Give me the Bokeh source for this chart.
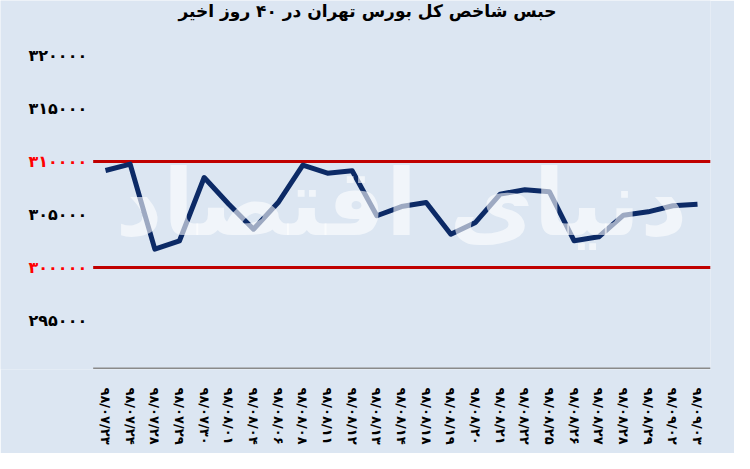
from bokeh.plotting import figure
from bokeh.models import Range1d, FixedTicker
from bokeh.embed import file_html
from bokeh.resources import INLINE
from bokeh.core.properties import value

FA = str.maketrans("0123456789", "۰۱۲۳۴۵۶۷۸۹")

title_text = "حبس شاخص کل بورس تهران در ۴۰ روز اخیر"
watermark_text = "دنیای اقتصاد"

dates = ["98/07/23", "98/07/24", "98/07/28", "98/07/29", "98/07/30",
         "98/08/01", "98/08/04", "98/08/06", "98/08/08", "98/08/11",
         "98/08/12", "98/08/13", "98/08/14", "98/08/18", "98/08/19",
         "98/08/20", "98/08/21", "98/08/22", "98/08/25", "98/08/26",
         "98/08/27", "98/08/28", "98/08/29", "98/09/02", "98/09/03"]
dates_fa = [d.translate(FA) for d in dates]

index_values = [309150, 309750, 301730, 302520, 308490,
                305970, 303610, 306130, 309650, 308900,
                309120, 304880, 305750, 306130, 303140,
                304250, 306920, 307330, 307140, 302520,
                302900, 304930, 305250, 305820, 305970]

y_ticks = [295000, 300000, 305000, 310000, 315000, 320000]
band_levels = [300000, 310000]

BG = "#dce6f2"
FONT = "DejaVu Sans"

n = len(dates_fa)
xs = list(range(n))
cat_left, cat_right = -0.5, n - 0.5

# pixel geometry of the frame
px_per_cat = 24.667            # horizontal px per category
px_per_unit_y = 10.6 / 1000    # vertical px per index point
x_start = -105 / px_per_cat
x_end = x_start + 710 / px_per_cat
y_start = 290376
y_end = y_start + 369 / px_per_unit_y

p = figure(width=734, height=453,
           x_range=Range1d(x_start, x_end),
           y_range=Range1d(y_start, y_end),
           output_backend="svg", toolbar_location=None,
           min_border_left=0, min_border_right=24,
           min_border_top=0, min_border_bottom=84)
p.background_fill_color = BG
p.border_fill_color = BG
p.outline_line_color = None
p.xgrid.grid_line_color = None
p.ygrid.grid_line_color = None
p.yaxis.visible = False

# title, centred on the page, near the top
p.text(x=[x_start + 367 / px_per_cat], y=[y_end - 10 / px_per_unit_y],
       text=[title_text], text_align="center", text_baseline="middle",
       text_font=value(FONT), text_font_size="17px", text_font_style="bold",
       text_color="black")

# x axis (labels only; its line is drawn over the category span)
p.xaxis.ticker = FixedTicker(ticks=xs)
p.xaxis.major_label_overrides = {i: d for i, d in zip(xs, dates_fa)}
p.xaxis.axis_line_color = None
p.xaxis.major_tick_line_color = None
p.xaxis.minor_tick_line_color = None
p.xaxis.major_tick_out = 0
p.xaxis.major_tick_in = 0
p.xaxis.major_label_orientation = "vertical"
p.xaxis.major_label_standoff = 18
p.xaxis.major_label_text_font = FONT
p.xaxis.major_label_text_font_size = "13px"
p.xaxis.major_label_text_font_style = "bold"
p.xaxis.major_label_text_color = "black"

p.segment(x0=[cat_left], y0=[y_start + 110], x1=[cat_right + 0.03], y1=[y_start + 110],
          line_color="#8a8a8a", line_width=1.5)

# y tick labels (band levels in red)
label_x = cat_left - 6 / px_per_cat
p.text(x=[label_x] * len(y_ticks), y=y_ticks,
       text=[str(t).translate(FA) for t in y_ticks],
       text_color=["#ff0000" if t in band_levels else "black" for t in y_ticks],
       text_align="right", text_baseline="middle",
       text_font=value(FONT), text_font_size="16px", text_font_style="bold")

# band lines
p.segment(x0=[cat_left] * 2, y0=band_levels, x1=[cat_right + 0.03] * 2, y1=band_levels,
          line_color="#c00000", line_width=3)

p.line(xs, index_values, line_width=5, line_color="#0c2a66", line_join="round")

# watermark
p.text(x=[(n - 1) / 2], y=[306000], text=[watermark_text],
       text_align="center", text_baseline="middle",
       text_font=value(FONT), text_font_size="92px",
       text_font_style="bold", text_color="white", text_alpha=0.6)

open("out.html", "w").write(file_html(p, INLINE))
